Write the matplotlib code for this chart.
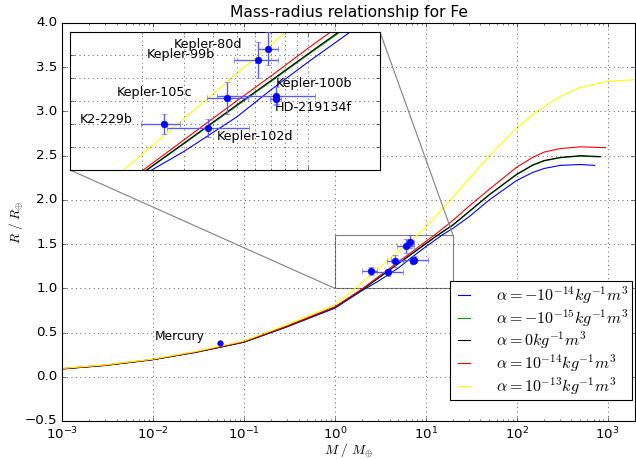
import numpy as np
import matplotlib
matplotlib.use('Agg')
import matplotlib.pyplot as plt
from mpl_toolkits.axes_grid1.inset_locator import mark_inset

plt.style.use('classic')
plt.rcParams['savefig.facecolor'] = 'white'
plt.rcParams['figure.facecolor'] = 'white'

# Mass-radius curves (M in Earth masses, R in Earth radii)
m_blue = [1e-3, 3e-3, 1e-2, 3e-2, 0.1, 0.3, 1, 2, 3, 5, 7, 10, 15, 20, 30, 50, 100, 150, 200, 300, 500, 720]
r_blue = [0.088, 0.128, 0.193, 0.277, 0.39, 0.565, 0.775, 0.975, 1.08, 1.23, 1.35, 1.47, 1.60, 1.68, 1.81,
          2.0, 2.22, 2.31, 2.355, 2.39, 2.40, 2.39]

m_green = [1e-3, 3e-3, 1e-2, 3e-2, 0.1, 0.3, 1, 2, 3, 5, 7, 10, 13.4, 20, 30, 50, 100, 150, 200, 300, 500, 830]
r_green = [0.09, 0.13, 0.195, 0.28, 0.393, 0.57, 0.785, 0.983, 1.113, 1.278, 1.386, 1.502, 1.595, 1.715, 1.865,
           2.055, 2.285, 2.39, 2.44, 2.475, 2.495, 2.485]

m_black = [1e-3, 3e-3, 1e-2, 3e-2, 0.1, 0.3, 1, 2, 3, 5, 7, 10, 13.4, 20, 30, 50, 100, 150, 200, 300, 500, 830]
r_black = [0.09, 0.13, 0.195, 0.28, 0.393, 0.57, 0.785, 0.985, 1.116, 1.282, 1.39, 1.506, 1.60, 1.72, 1.87,
           2.06, 2.29, 2.395, 2.445, 2.48, 2.50, 2.49]

m_red = [1e-3, 3e-3, 1e-2, 3e-2, 0.1, 0.3, 1, 2, 3, 5, 7, 10, 12.4, 20, 30, 50, 100, 150, 200, 300, 500, 950]
r_red = [0.092, 0.132, 0.197, 0.282, 0.397, 0.575, 0.79, 0.995, 1.13, 1.30, 1.41, 1.53, 1.60, 1.77, 1.93,
         2.12, 2.37, 2.48, 2.54, 2.58, 2.60, 2.59]

m_yellow = [1e-3, 3e-3, 1e-2, 3e-2, 0.1, 0.3, 1, 1.68, 2, 3, 5, 7, 8, 10, 20, 30, 50, 100, 167, 300, 500,
            1000, 2000, 2500]
r_yellow = [0.095, 0.135, 0.2, 0.288, 0.405, 0.59, 0.815, 1.0, 1.067, 1.222, 1.418, 1.547, 1.6, 1.69, 2.03,
            2.24, 2.50, 2.81, 3.0, 3.17, 3.27, 3.34, 3.36, 3.36]

curve_labels = [r'$\alpha = -10^{-14}kg^{-1}m^3$',
                r'$\alpha = -10^{-15}kg^{-1}m^3$',
                r'$\alpha = 0kg^{-1}m^3$',
                r'$\alpha = 10^{-14}kg^{-1}m^3$',
                r'$\alpha = 10^{-13}kg^{-1}m^3$']
curve_colors = ['b', (0, 0.6, 0), 'k', 'r', 'yellow']

# Exoplanets
planets = ['K2-229b', 'Kepler-102d', 'Kepler-105c', 'Kepler-100b', 'HD-219134f', 'Kepler-99b', 'Kepler-80d']
p_mass = [2.48, 3.8, 4.57, 7.34, 7.3, 6.13, 6.77]
p_mass_lo = [0.49, 1.25, 0.81, 3.2, 0.4, 1.25, 0.64]
p_mass_hi = [0.42, 1.85, 0.99, 3.3, 0.4, 1.33, 0.69]
p_rad = [1.20, 1.183, 1.312, 1.322, 1.308, 1.478, 1.528]
p_rad_err = [0.045, 0.04, 0.07, 0.04, 0.02, 0.08, 0.07]

mercury_mass = 0.055
mercury_rad = 0.383

# label positions in the inset (x, y, ha)
label_pos = [(1.1, 1.22, 'left'), (4.13, 1.147, 'left'), (3.25, 1.336, 'right'), (7.3, 1.375, 'left'),
             (7.2, 1.27, 'left'), (4.05, 1.504, 'right'), (5.27, 1.547, 'right')]

W, H = 636, 459
fig = plt.figure(figsize=(W / 80.0, H / 80.0), dpi=80)
ax = fig.add_axes([62.0 / W, 1 - 421.0 / H, 573.0 / W, 398.0 / H])

curves = [(m_blue, r_blue), (m_green, r_green), (m_black, r_black), (m_red, r_red), (m_yellow, r_yellow)]


def draw_all(a):
    for (m, r), c, lab in zip(curves, curve_colors, curve_labels):
        a.plot(m, r, color=c, lw=1.0, label=lab)
    a.errorbar(p_mass, p_rad, xerr=[p_mass_lo, p_mass_hi], yerr=p_rad_err, fmt='o', color='b',
               ecolor=(0.35, 0.35, 1.0), elinewidth=1.2, capsize=3, markersize=6, mec='b', zorder=5)


draw_all(ax)
ax.plot([mercury_mass], [mercury_rad], 'o', color='b', mec='b', markersize=5)
ax.text(0.0104, 0.45, 'Mercury', ha='left', va='center', fontsize=11)

ax.set_xscale('log')
ax.set_xlim(1e-3, 2e3)
ax.set_ylim(-0.5, 4.0)
ax.grid(True)
ax.set_xlabel(r'$M\ /\ M_{\oplus}$', labelpad=-1)
ax.set_ylabel(r'$R\ /\ R_{\oplus}$', labelpad=0)
ax.set_title('Mass-radius relationship for Fe', fontsize=14)
ax.legend(loc='lower right', bbox_to_anchor=(632.0 / W, 1 - 400.0 / H), bbox_transform=fig.transFigure,
          borderaxespad=0, fontsize=14.4, labelspacing=0.08, handlelength=1.4, handletextpad=1.3,
          borderpad=0.2)

# zoomed inset
axins = fig.add_axes([70.0 / W, 1 - 170.0 / H, 310.0 / W, 138.0 / H])
draw_all(axins)
for name, (tx, ty, ha) in zip(planets, label_pos):
    axins.text(tx, ty, name, ha=ha, va='center', fontsize=11.5)
axins.set_xscale('log')
axins.set_xlim(1, 20)
axins.set_ylim(1.0, 1.6)
axins.grid(True, which='both')
axins.set_xticklabels([])
axins.set_yticklabels([])
axins.xaxis.set_minor_formatter(matplotlib.ticker.NullFormatter())
mark_inset(ax, axins, loc1=3, loc2=1, fc='none', ec='0.5')

fig.savefig('out.png', dpi=80)
